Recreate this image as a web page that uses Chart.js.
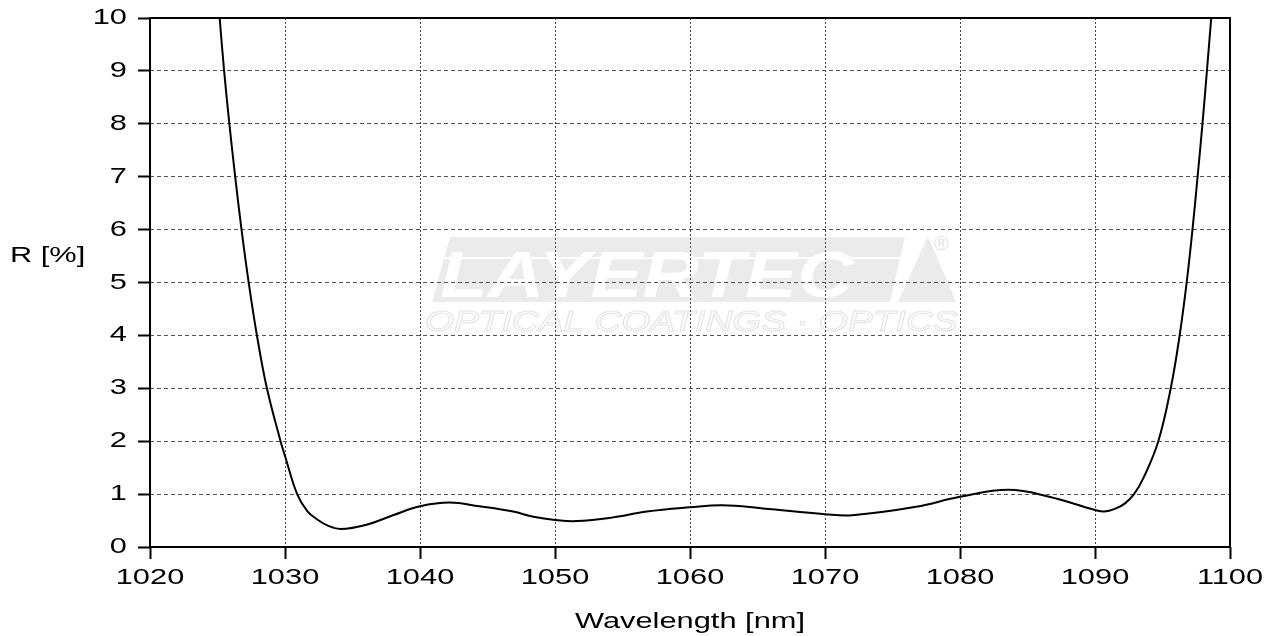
<!DOCTYPE html>
<html>
<head>
<meta charset="utf-8">
<script src="https://cdn.jsdelivr.net/npm/chart.js@4.4.1/dist/chart.umd.min.js"></script>
<style>
  html, body { margin: 0; padding: 0; background: #fff; }
  #wrap { width: 1278px; height: 636px; }
</style>
</head>
<body>
<div id="wrap"><canvas id="chart" width="1278" height="636"></canvas></div>
<script>
// values
const wavelength = [
  1025.16, 1025.49, 1025.88, 1026.31, 1026.78, 1027.31, 1027.92, 1028.66, 1029.67, 1030.0,
  1030.9, 1031.65, 1032.39, 1033.13, 1034.12, 1036.04, 1038.0, 1040.0, 1042.2, 1044.4,
  1046.9, 1048.4, 1050.0, 1051.6, 1054.3, 1056.8, 1060.0, 1062.4, 1065.4, 1070.0,
  1072.0, 1076.75, 1080.0, 1083.6, 1086.6, 1090.0, 1090.7, 1091.55, 1092.2, 1092.89,
  1093.6, 1094.69, 1095.61, 1096.27, 1096.79, 1097.22, 1097.6, 1097.96, 1098.29, 1098.61
];
const reflectance = [
  10, 9, 8, 7, 6, 5, 4, 3, 2, 1.72,
  1.0, 0.68, 0.52, 0.41, 0.34, 0.42, 0.60, 0.77, 0.84, 0.77,
  0.67, 0.57, 0.51, 0.49, 0.56, 0.67, 0.75, 0.79, 0.73, 0.62,
  0.60, 0.76, 0.95, 1.08, 0.95, 0.70, 0.67, 0.73, 0.82, 1.0,
  1.31, 2, 3, 4, 5, 6, 7, 8, 9, 10
];
const xTicks = [1020, 1030, 1040, 1050, 1060, 1070, 1080, 1090, 1100];
const yTicks = [0, 1, 2, 3, 4, 5, 6, 7, 8, 9, 10];
const xTitle = 'Wavelength [nm]';
const yTitle = 'R [%]';

const SX = 1.4; // reference text is horizontally stretched
const FONT = '22px "Liberation Sans", Arial, sans-serif';

function wideText(ctx, txt, x, y, align, font, color) {
  ctx.save();
  ctx.font = font || FONT;
  ctx.fillStyle = color || '#000';
  ctx.textAlign = align;
  ctx.textBaseline = 'middle';
  ctx.translate(x, y);
  ctx.scale(SX, 1);
  ctx.fillText(txt, 0, 0);
  ctx.restore();
}

const watermark = {
  id: 'watermark',
  beforeDraw(chart) {
    const ctx = chart.ctx;
    ctx.save();
    ctx.fillStyle = '#fff';
    ctx.fillRect(0, 0, chart.width, chart.height);
    // grey banner
    ctx.fillStyle = '#ebebeb';
    ctx.beginPath();
    ctx.moveTo(450, 237); ctx.lineTo(905, 237); ctx.lineTo(890, 302); ctx.lineTo(432, 302);
    ctx.closePath(); ctx.fill();
    // triangle
    ctx.beginPath();
    ctx.moveTo(928, 236); ctx.lineTo(956, 302); ctx.lineTo(898, 302);
    ctx.closePath(); ctx.fill();
    // knocked-out letters
    ctx.fillStyle = '#fff';
    ctx.font = 'italic bold 64px "Liberation Sans", Arial, sans-serif';
    ctx.textBaseline = 'alphabetic';
    ctx.save();
    ctx.translate(440, 297);
    ctx.scale(1.22, 1);
    ctx.fillText('LAYERTEC', 0, 0);
    ctx.restore();
    ctx.fillRect(430, 257, 470, 2);
    // registered mark
    ctx.fillStyle = '#e2e2e2';
    ctx.font = '20px "Liberation Sans", Arial, sans-serif';
    ctx.fillText('\u00ae', 934, 250);
    // sub line
    ctx.strokeStyle = '#e3e3e3';
    ctx.lineWidth = 1;
    ctx.font = 'italic 30px "Liberation Sans", Arial, sans-serif';
    ctx.save();
    ctx.translate(425, 331);
    ctx.scale(1.24, 1);
    ctx.strokeText('OPTICAL COATINGS \u00b7 OPTICS', 0, 0);
    ctx.restore();
    ctx.restore();
  }
};

const frameAndLabels = {
  id: 'frameAndLabels',
  afterDraw(chart) {
    const ctx = chart.ctx;
    const a = chart.chartArea;
    const xs = chart.scales.x, ys = chart.scales.y;
    ctx.save();
    ctx.strokeStyle = '#000';
    ctx.lineWidth = 2;
    ctx.strokeRect(a.left, a.top, a.right - a.left, a.bottom - a.top);
    ctx.restore();
    xs.ticks.forEach(t => wideText(ctx, String(t.value), xs.getPixelForValue(t.value), 578, 'center'));
    ys.ticks.forEach(t => wideText(ctx, String(t.value), 127, ys.getPixelForValue(t.value), 'right'));
    wideText(ctx, xTitle, (a.left + a.right) / 2, 622, 'center');
    wideText(ctx, yTitle, 10, 256, 'left');
  }
};

new Chart(document.getElementById('chart'), {
  type: 'line',
  data: {
    datasets: [{
      data: wavelength.map((w, i) => ({ x: w, y: reflectance[i] })),
      borderColor: '#000',
      borderWidth: 2,
      pointRadius: 0,
      fill: false,
      tension: 0.4
    }]
  },
  options: {
    responsive: false,
    animation: false,
    layout: { padding: { top: 18, right: 48, left: 0, bottom: 0 } },
    plugins: { legend: { display: false }, tooltip: { enabled: false } },
    scales: {
      x: {
        type: 'linear', min: 1020, max: 1100,
        afterBuildTicks: s => { s.ticks = xTicks.map(v => ({ value: v })); },
        afterFit: s => { s.height = 89; },
        ticks: { display: false },
        grid: { color: '#444', lineWidth: 1, tickLength: 12, tickColor: '#000', tickWidth: 2, tickBorderDash: [] },
        border: { display: false, dash: [2, 2] }
      },
      y: {
        min: 0, max: 10,
        afterBuildTicks: s => { s.ticks = yTicks.map(v => ({ value: v })); },
        afterFit: s => { s.width = 150; },
        ticks: { display: false },
        grid: { color: '#555', lineWidth: 1, tickLength: 12, tickColor: '#000', tickWidth: 2, tickBorderDash: [] },
        border: { display: false, dash: [4, 3] }
      }
    }
  },
  plugins: [watermark, frameAndLabels]
});
</script>
</body>
</html>
